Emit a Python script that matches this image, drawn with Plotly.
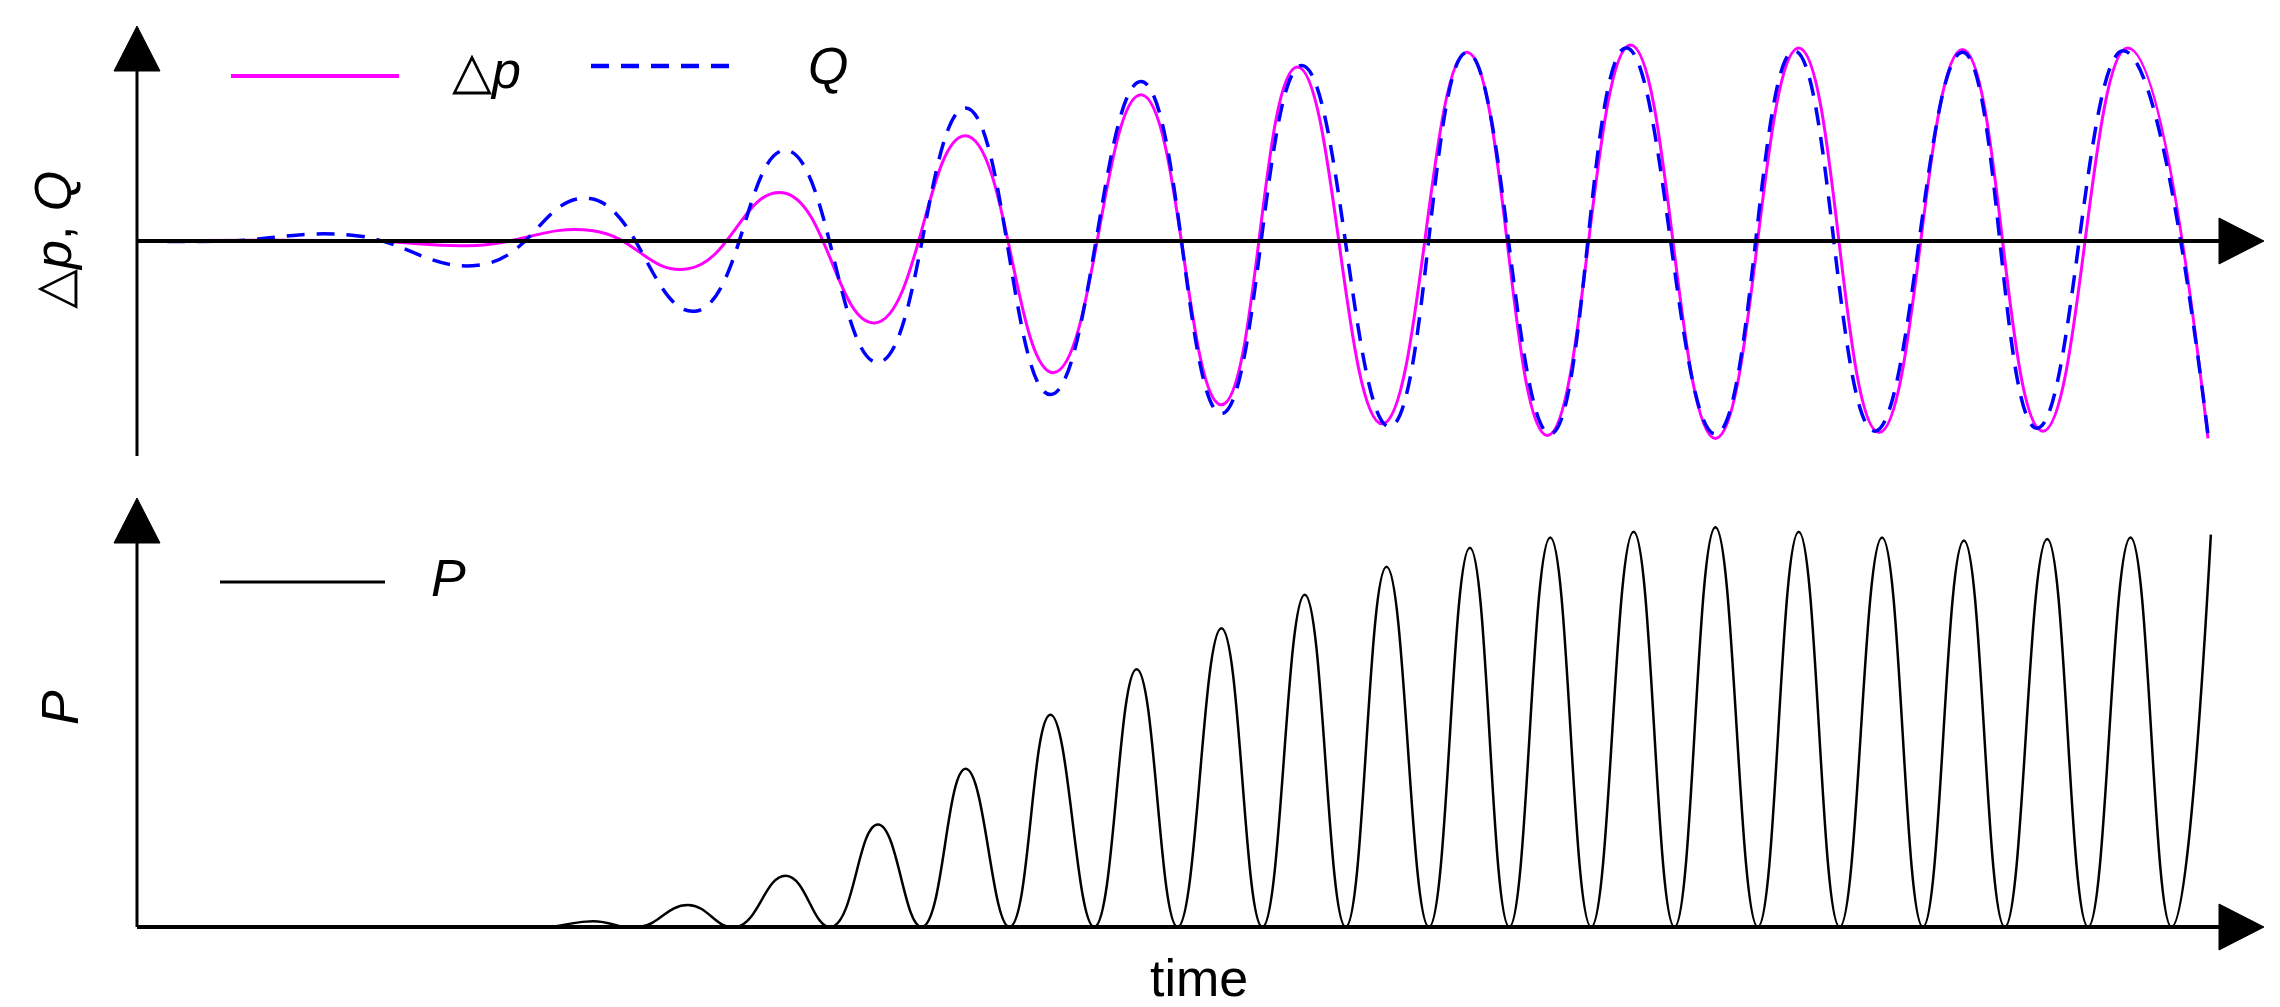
import plotly.graph_objects as go

W, H = 2280, 1007

# time (arbitrary units) and values
dp_t = [0, 160, 232, 312, 377, 442, 505, 567, 627, 687, 742, 794, 852, 910, 965, 1022, 1080, 1137, 1192, 1249, 1304, 1362, 1417]
dp_v = [0, 0, -3, 7, -19, 33, -56, 72, -90, 100, -112, 119, -125, 129, -133, 134, -135, 132, -131, 131, -130, 132, -135]

q_t = [0, 62, 147, 237, 310, 382, 444, 507, 567, 625, 687, 742, 797, 857, 910, 967, 1019, 1080, 1134, 1189, 1249, 1300, 1359, 1417]
q_v = [0, 0, 4, -16, 29, -48, 62, -83, 91, -105, 109, -118, 120, -127, 129, -132, 132, -132, 130, -130, 129, -128, 130, -132]

p_peak_t = [312, 377, 444, 507, 567, 625, 684, 742, 799, 855, 912, 967, 1024, 1080, 1137, 1194, 1250, 1307, 1364, 1419]
p_peak_v = [4, 15, 35, 70, 108, 145, 176, 204, 227, 246, 259, 266, 270, 273, 270, 266, 264, 265, 266, 268]
p_trough_t = [344, 410, 475, 537, 597, 655, 712, 770, 827, 884, 939, 995, 1052, 1109, 1165, 1222, 1278, 1335, 1392]

# build P series: flat start, then alternating troughs (0) and peaks
p_t = [0, 200, 280]
p_v = [0, 0, 0]
for i, (pt, pv) in enumerate(zip(p_peak_t, p_peak_v)):
    p_t.append(pt); p_v.append(pv)
    if i < len(p_trough_t):
        p_t.append(p_trough_t[i]); p_v.append(0)

FONT = "Liberation Sans, Arial, sans-serif"

fig = go.Figure()
fig.add_trace(go.Scatter(x=dp_t, y=dp_v, mode="lines", line=dict(color="#ff00ff", width=3, shape="spline", smoothing=1.3), xaxis="x", yaxis="y"))
fig.add_trace(go.Scatter(x=q_t, y=q_v, mode="lines", line=dict(color="#0000ff", width=3.5, dash="18px,12px", shape="spline", smoothing=1.3), xaxis="x", yaxis="y"))
fig.add_trace(go.Scatter(x=p_t, y=p_v, mode="lines", line=dict(color="black", width=2.5, shape="spline", smoothing=1.3), xaxis="x2", yaxis="y2"))

def px(x): return x / W
def py(y): return 1 - y / H

X0, X1 = 129, 2256
ax_common = dict(showgrid=False, zeroline=False, showticklabels=False, ticks="", showline=False, fixedrange=True)
fig.update_layout(
    width=W, height=H, margin=dict(l=0, r=0, t=0, b=0),
    paper_bgcolor="white", plot_bgcolor="rgba(0,0,0,0)", showlegend=False,
    xaxis=dict(domain=[px(X0), px(X1)], range=[0, X1 / 1.4615 - X0 / 1.4615], anchor="y", **ax_common),
    yaxis=dict(domain=[py(448), py(18)], range=[-147, 147], **ax_common),
    xaxis2=dict(domain=[px(X0), px(X1)], range=[0, X1 / 1.4615 - X0 / 1.4615], anchor="y2", **ax_common),
    yaxis2=dict(domain=[py(919), py(490)], range=[0, 293], **ax_common),
)

shapes = []
def line(x0, y0, x1, y1, color="black", width=3, dash="solid"):
    shapes.append(dict(type="line", xref="paper", yref="paper", x0=px(x0), y0=py(y0), x1=px(x1), y1=py(y1),
                       line=dict(color=color, width=width, dash=dash)))
def tri(pts):
    path = "M " + " L ".join(f"{px(a)},{py(b)}" for a, b in pts) + " Z"
    shapes.append(dict(type="path", xref="paper", yref="paper", path=path, fillcolor="black", line=dict(color="black", width=1)))

# top axes
line(X0, 50, X0, 448)
tri([(X0, 18), (X0 - 23, 63), (X0 + 23, 63)])
line(X0, 233, 2215, 233, width=4)
tri([(2256, 233), (2211, 210), (2211, 256)])
# bottom axes
line(X0, 520, X0, 919)
tri([(X0, 490), (X0 - 23, 535), (X0 + 23, 535)])
line(X0, 919, 2215, 919, width=4)
tri([(2256, 919), (2211, 896), (2211, 942)])
# legends
line(223, 68, 391, 68, color="#ff00ff", width=4)
line(583, 58, 730, 58, color="#0000ff", width=4.5, dash="18px,12px")
line(212, 574, 377, 574, color="black", width=3)

fig.update_layout(shapes=shapes)

ann = []
def text(x, y, s, size=52, angle=0):
    ann.append(dict(x=px(x), y=py(y), xref="paper", yref="paper", text=s, showarrow=False,
                    font=dict(family=FONT, size=size, color="black"), textangle=angle, xanchor="center", yanchor="middle"))
text(478, 62, "△<i>p</i>")
text(820, 58, "<i>Q</i>")
text(440, 570, "<i>P</i>")
text(45, 232, "△<i>p</i>, <i>Q</i>", angle=-90)
text(52, 700, "<i>P</i>", angle=-90)
text(1191, 970, "time")
fig.update_layout(annotations=ann)

fig.write_html("out.html")
